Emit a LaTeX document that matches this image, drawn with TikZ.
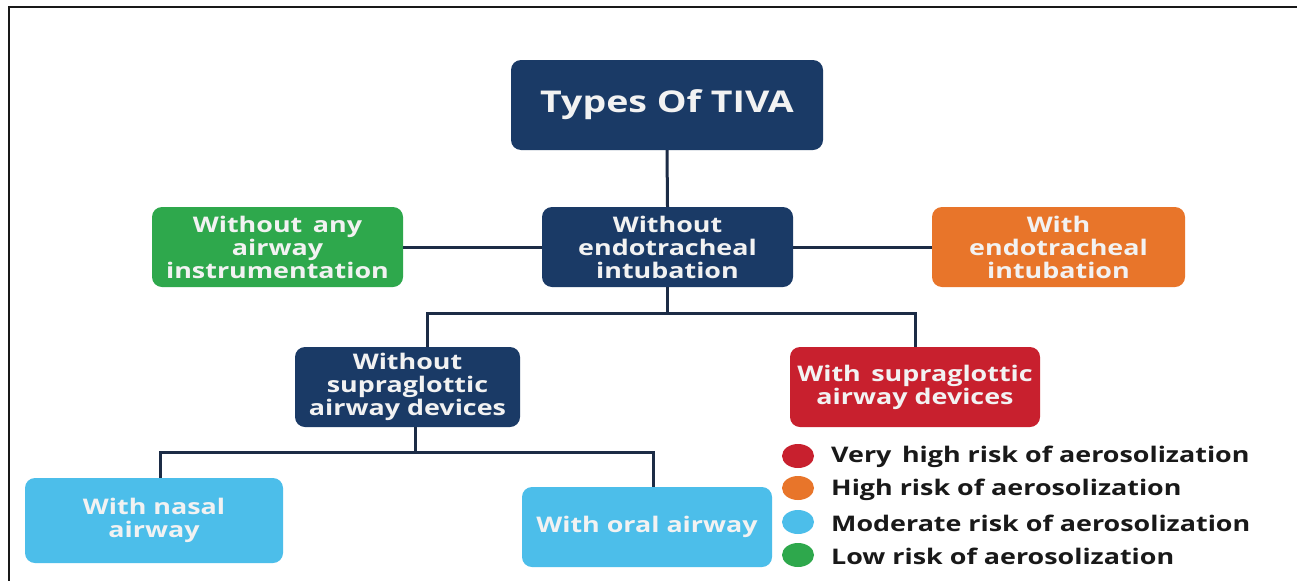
\documentclass[tikz,border=0pt]{standalone}
\usepackage{fontspec}
\setmainfont{Open Sans}[FakeStretch=1.25]
\usetikzlibrary{shapes.geometric}
\definecolor{navy}{RGB}{26,58,102}
\definecolor{grn}{RGB}{46,168,76}
\definecolor{org}{RGB}{232,117,42}
\definecolor{rd}{RGB}{200,32,46}
\definecolor{lblue}{RGB}{76,190,234}
\definecolor{wire}{RGB}{28,44,70}
\definecolor{boxtext}{RGB}{242,242,242}
\tikzset{
  box/.style={rectangle, rounded corners=10pt, inner sep=0pt, align=center,
    text=boxtext, font=\bfseries\fontsize{21.5}{23}\selectfont},
  wirestyle/.style={draw=wire, line width=3pt},
  dot/.style={ellipse, minimum width=32pt, minimum height=24pt, inner sep=0pt},
  legtext/.style={anchor=west, inner sep=0pt, text=black!90, font=\bfseries\fontsize{21.5}{24}\selectfont},
}
\begin{document}
\begin{tikzpicture}[x=1pt,y=-1pt]
\useasboundingbox (0,0) rectangle (1297,581);
\fill[white] (0,0) rectangle (1297,581);
\draw[line width=2.5pt, black!90] (1297,7) -- (9,7) -- (9,581);

\node[box, fill=navy, minimum width=312pt, minimum height=90pt, font=\bfseries\fontsize{30}{36}\selectfont] (tiva) at (667,105) {Types Of TIVA};
\node[box, fill=navy, minimum width=251pt, minimum height=80pt] (woendo) at (667.5,247) {Without\\endotracheal\\intubation};
\node[box, fill=grn, minimum width=251pt, minimum height=80pt] (noair) at (277.5,247) {Without\, any\\airway\\instrumentation};
\node[box, fill=org, minimum width=253pt, minimum height=80pt] (wendo) at (1058.5,247) {With\\endotracheal\\intubation};
\node[box, fill=navy, minimum width=225pt, minimum height=80pt] (wosupra) at (407.5,387) {Without\\supraglottic\\airway devices};
\node[box, fill=rd, minimum width=250pt, minimum height=80pt] (wsupra) at (915,387) {With\, supraglottic\\airway devices};
\node[box, fill=lblue, minimum width=258pt, minimum height=85pt] (nasal) at (154,520.5) {With nasal\\airway};
\node[box, fill=lblue, minimum width=250pt, minimum height=80pt] (oral) at (647,527) {With oral airway};

\draw[wirestyle] (tiva.south) -- (woendo.north);
\draw[wirestyle] (noair.east) -- (woendo.west);
\draw[wirestyle] (woendo.east) -- (wendo.west);
\draw[wirestyle] (woendo.south) -- ++(0,26) coordinate (j1);
\draw[wirestyle] ([xshift=19.5pt]wosupra.north) |- (j1) -| (wsupra.north);
\draw[wirestyle] ([xshift=7.5pt]wosupra.south) -- ++(0,25) coordinate (j2);
\draw[wirestyle] ([xshift=6pt]nasal.north) |- (j2) -| ([xshift=6pt]oral.north);

\node[dot, fill=rd] (d1) at (798,456) {};
\node[dot, fill=org] (d2) at (798,488) {};
\node[dot, fill=lblue] (d3) at (798,522) {};
\node[dot, fill=grn] (d4) at (798,555) {};
\node[legtext] (l1) at (831,457) {Very\, high risk of aerosolization};
\node[legtext] (l2) at (831,490) {High risk of aerosolization};
\node[legtext] (l3) at (831,523) {Moderate risk of aerosolization};
\node[legtext] (l4) at (831,556) {Low risk of aerosolization};
\end{tikzpicture}
\end{document}
